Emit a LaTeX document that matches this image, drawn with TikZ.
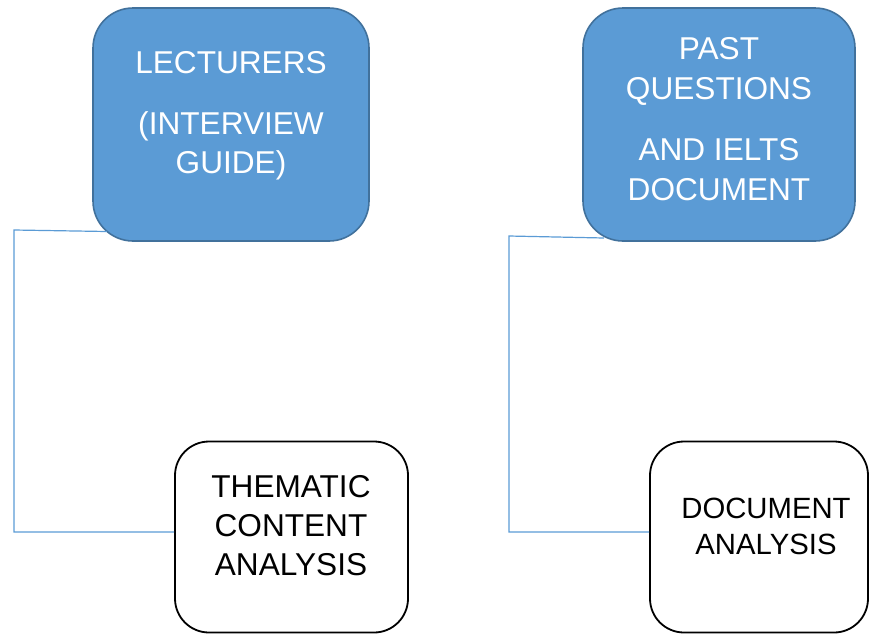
\documentclass[tikz,border=0pt]{standalone}
\usepackage{fontspec}
\setmainfont{Liberation Sans}
\definecolor{boxblue}{HTML}{5B9BD5}
\definecolor{boxedge}{HTML}{41719C}
\definecolor{linkblue}{HTML}{5B9BD5}
\tikzset{
  srcbox/.style={draw=boxedge, line width=1.6pt, fill=boxblue, rounded corners=40pt, inner sep=0pt},
  anbox/.style={draw=black, line width=1.8pt, fill=white, rounded corners=34pt, inner sep=0pt},
  wtxt/.style={anchor=base, text=white, inner sep=0pt, font=\fontsize{31.6}{38}\selectfont},
  btxt/.style={anchor=base, text=black, inner sep=0pt, font=\fontsize{31.6}{38}\selectfont},
  stxt/.style={anchor=base, text=black, inner sep=0pt, font=\fontsize{29.3}{36}\selectfont},
  conn/.style={draw=linkblue, line width=1.2pt}
}
\begin{document}
\begin{tikzpicture}[x=1pt,y=-1pt]
\useasboundingbox (0,0) rectangle (870,633);
% boxes
\node[srcbox, minimum width=276pt, minimum height=233pt] (lect) at (231,124.5) {};
\node[srcbox, minimum width=272pt, minimum height=233pt] (past) at (719,124.5) {};
\node[anbox, minimum width=233pt, minimum height=191pt] (them) at (291.5,537) {};
\node[anbox, minimum width=218pt, minimum height=191pt] (doc) at (759,537) {};
% texts
\node[wtxt] (t1) at (231,73) {LECTURERS};
\node[wtxt] (t2) at (231,134) {(INTERVIEW};
\node[wtxt] (t3) at (231,173) {GUIDE)};
\node[wtxt] (t4) at (719,59) {PAST};
\node[wtxt] (t5) at (719,99) {QUESTIONS};
\node[wtxt] (t6) at (719,160) {AND IELTS};
\node[wtxt] (t7) at (719,200) {DOCUMENT};
\node[btxt] (t8) at (291,497) {THEMATIC};
\node[btxt] (t9) at (291,536) {CONTENT};
\node[btxt] (t10) at (291,575) {ANALYSIS};
\node[stxt] (t11) at (766,518.5) {DOCUMENT};
\node[stxt] (t12) at (766,554.5) {ANALYSIS};
% connectors
\coordinate (l1) at (107,231.5);
\coordinate (l2) at (14,230);
\coordinate (r1) at (604,238);
\coordinate (r2) at (509,236);
\draw[conn] (l1) -- (l2) |- ([yshift=5pt]them.west);
\draw[conn] (r1) -- (r2) |- ([yshift=5pt]doc.west);
\end{tikzpicture}
\end{document}
